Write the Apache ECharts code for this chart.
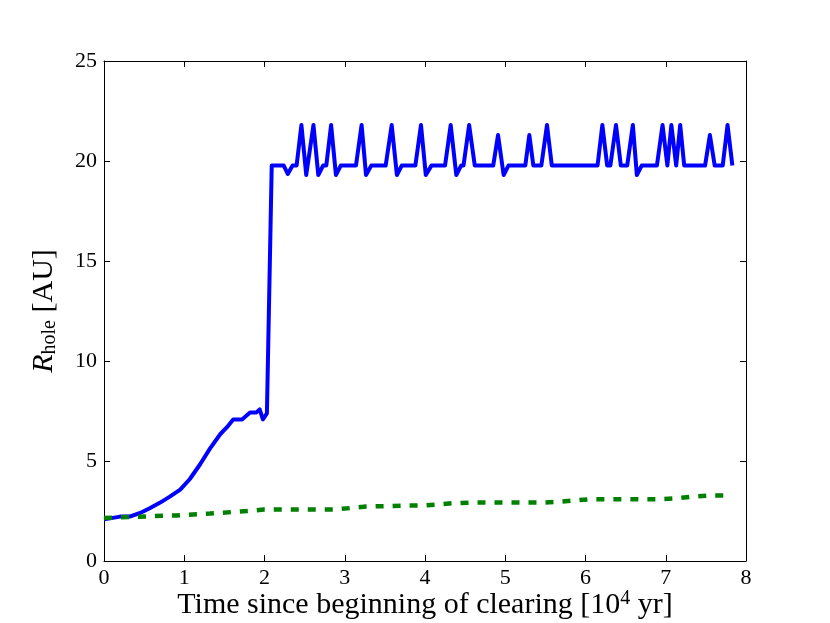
<!DOCTYPE html>
<html>
<head>
<meta charset="utf-8">
<script src="https://cdn.jsdelivr.net/npm/echarts@6/dist/echarts.min.js"></script>
<style>html,body{margin:0;padding:0;background:#fff}#c{width:830px;height:623px}</style>
</head>
<body>
<div id="c"></div>
<script>
// Blue series: R_hole vs time (10^4 yr)
const timeBlue = [0.0, 0.075, 0.2, 0.32, 0.45, 0.57, 0.70, 0.82, 0.95, 1.07, 1.20, 1.32, 1.45, 1.53, 1.61, 1.72, 1.82, 1.90, 1.94, 1.98, 2.03,
  2.09, 2.24, 2.29, 2.35, 2.40, 2.46, 2.52, 2.61, 2.67, 2.73, 2.77, 2.83, 2.89, 2.95, 3.14, 3.21, 3.265, 3.33, 3.51, 3.585, 3.65, 3.71,
  3.88, 3.95, 4.01, 4.08, 4.25, 4.32, 4.39, 4.45, 4.48, 4.55, 4.62, 4.85, 4.91, 4.98, 5.04, 5.25, 5.30, 5.35, 5.45, 5.52, 5.58,
  6.15, 6.21, 6.27, 6.31, 6.38, 6.44, 6.52, 6.59, 6.64, 6.70, 6.89, 6.96, 7.02, 7.07, 7.13, 7.18, 7.23, 7.49, 7.55, 7.61, 7.71, 7.77, 7.83];
const rBlue = [2.08, 2.13, 2.22, 2.22, 2.40, 2.64, 2.92, 3.22, 3.57, 4.10, 4.85, 5.62, 6.35, 6.68, 7.08, 7.08, 7.43, 7.43, 7.58, 7.08, 7.38,
  19.77, 19.77, 19.35, 19.77, 19.77, 21.8, 19.3, 21.8, 19.3, 19.77, 19.77, 21.8, 19.3, 19.77, 19.77, 21.8, 19.3, 19.77, 19.77, 21.8, 19.3, 19.77,
  19.77, 21.8, 19.3, 19.77, 19.77, 21.8, 19.3, 19.77, 19.77, 21.8, 19.77, 19.77, 21.3, 19.3, 19.77, 19.77, 21.3, 19.77, 19.77, 21.8, 19.77,
  19.77, 21.8, 19.77, 19.77, 21.8, 19.77, 19.77, 21.8, 19.3, 19.77, 19.77, 21.8, 19.77, 21.8, 19.77, 21.8, 19.77, 19.77, 21.3, 19.77, 19.77, 21.8, 19.77];
// Green dashed series
const timeGreen = [0.0, 0.3, 0.9, 1.32, 1.78, 1.99, 2.86, 3.27, 3.75, 3.98, 4.15, 4.35, 4.56, 5.43, 5.64, 5.85, 6.06, 6.93, 7.14, 7.34, 7.55, 7.82];
const rGreen = [2.15, 2.2, 2.28, 2.37, 2.5, 2.57, 2.57, 2.72, 2.77, 2.77, 2.82, 2.89, 2.92, 2.92, 2.95, 3.02, 3.09, 3.09, 3.14, 3.22, 3.27, 3.27];
const xTicks = [0, 1, 2, 3, 4, 5, 6, 7, 8];
const yTicks = [0, 5, 10, 15, 20, 25];

const zip = (a, b) => a.map((v, i) => [v, b[i]]);
const font = 'Liberation Serif, Times New Roman, DejaVu Serif, serif';
const tickFs = 22;
const labelFs = 30;

const chart = echarts.init(document.getElementById('c'), null, {renderer: 'canvas'});
const axCommon = {
  type: 'value',
  axisLine: {show: true, onZero: false, lineStyle: {color: '#000', width: 1}},
  axisTick: {show: true, inside: true, length: 6, lineStyle: {color: '#000', width: 1}},
  splitLine: {show: false}
};
chart.setOption({
  animation: false,
  backgroundColor: '#fff',
  grid: {left: 104, right: 84, top: 61, bottom: 62, containLabel: false, outerBoundsMode: 'none'},
  xAxis: [
    Object.assign({}, axCommon, {
      position: 'bottom', min: xTicks[0], max: xTicks[xTicks.length - 1], interval: 1,
      axisLabel: {color: '#000', fontFamily: font, fontSize: tickFs, margin: 6},
      name: 'Time since beginning of clearing [10{sup|4} yr]',
      nameLocation: 'middle', nameGap: 28, nameMoveOverlap: false,
      nameTextStyle: {color: '#000', fontFamily: font, fontSize: labelFs,
        rich: {sup: {fontFamily: font, fontSize: 20, padding: [0, 0, 12, 0], color: '#000'}}}
    }),
    Object.assign({}, axCommon, {
      position: 'top', min: xTicks[0], max: xTicks[xTicks.length - 1], interval: 1,
      axisLabel: {show: false}
    })
  ],
  yAxis: [
    Object.assign({}, axCommon, {
      position: 'left', min: yTicks[0], max: yTicks[yTicks.length - 1], interval: 5,
      axisLabel: {color: '#000', fontFamily: font, fontSize: tickFs, margin: 7},
      name: '{i|R}{sub|hole} [AU]',
      nameLocation: 'middle', nameGap: 44, nameRotate: 90, nameMoveOverlap: false,
      nameTextStyle: {color: '#000', fontFamily: font, fontSize: labelFs,
        rich: {
          i: {fontFamily: font, fontSize: labelFs, fontStyle: 'italic', color: '#000'},
          sub: {fontFamily: font, fontSize: 20, padding: [12, 0, 0, 0], color: '#000'}
        }}
    }),
    Object.assign({}, axCommon, {
      position: 'right', min: yTicks[0], max: yTicks[yTicks.length - 1], interval: 5,
      axisLabel: {show: false}
    })
  ],
  series: [
    {
      type: 'line', xAxisIndex: 0, yAxisIndex: 0, data: zip(timeBlue, rBlue),
      showSymbol: false, symbol: 'none',
      lineStyle: {color: '#0000ff', width: 4, join: 'round'}
    },
    {
      type: 'line', xAxisIndex: 0, yAxisIndex: 0, data: zip(timeGreen, rGreen),
      showSymbol: false, symbol: 'none',
      lineStyle: {color: '#008000', width: 4.5, type: [8, 9]}
    }
  ]
});
</script>
</body>
</html>
